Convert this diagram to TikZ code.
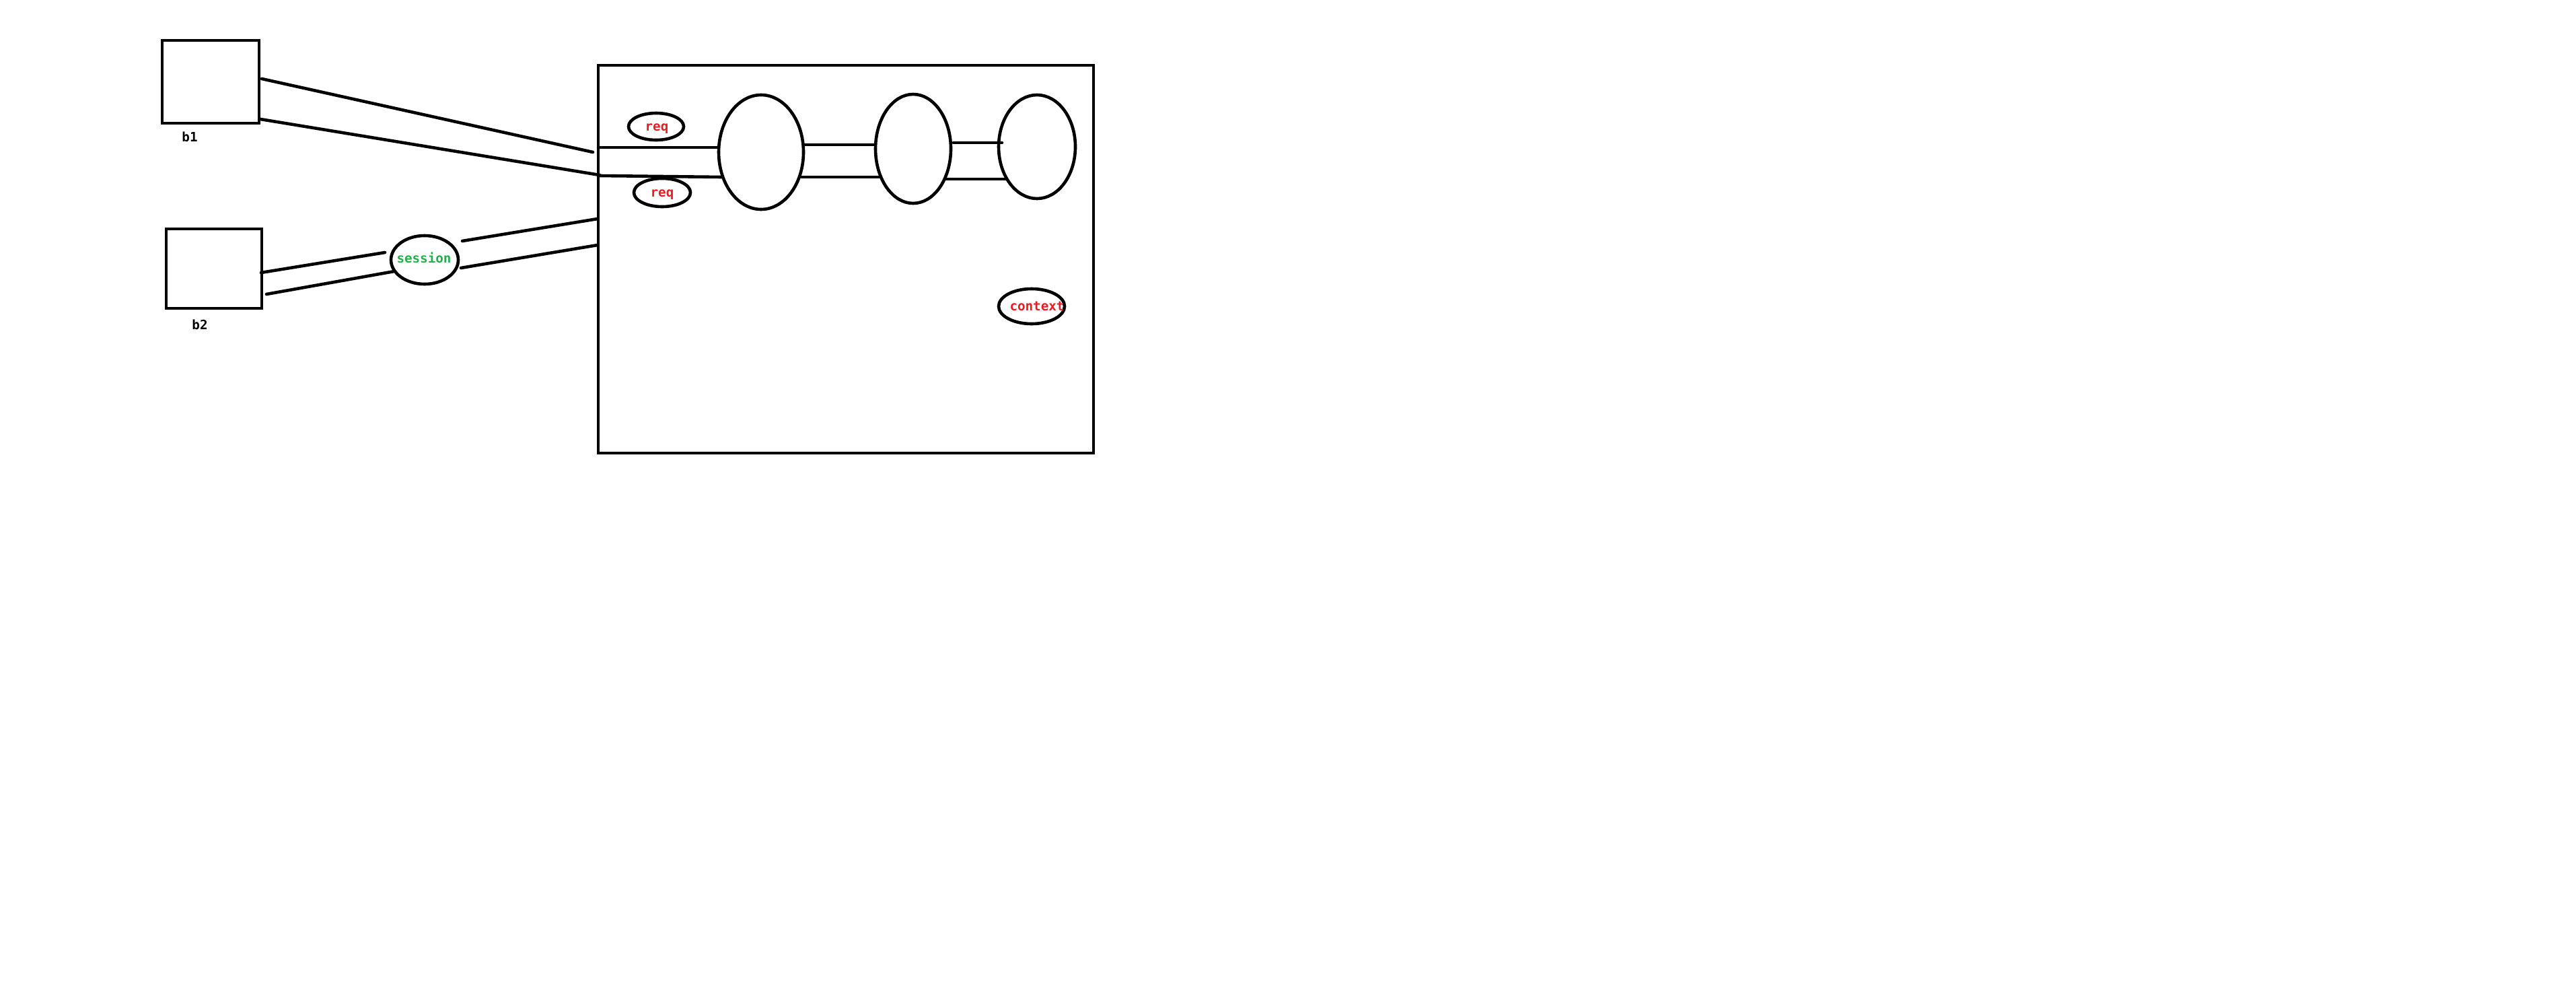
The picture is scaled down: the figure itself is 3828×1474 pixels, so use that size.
\documentclass[tikz,border=0pt]{standalone}
\usepackage{fontspec}
\newfontfamily\lblfont{DejaVu Sans Mono}
\usetikzlibrary{shapes.geometric}
\definecolor{pred}{RGB}{237,28,36}
\definecolor{pgreen}{RGB}{34,177,76}
\tikzset{
  ln/.style={line width=2.3pt, line cap=round},
  sqbox/.style={draw, line width=2.3pt, inner sep=0pt},
  oval/.style={draw, ellipse, line width=2.3pt, inner sep=0pt},
  lbl/.style={inner sep=0pt, font=\lblfont\bfseries\fontsize{9.6pt}{11pt}\selectfont},
}
\begin{document}
\begin{tikzpicture}[x=0.5pt,y=-0.5pt]
\useasboundingbox[fill=white] (0,0) rectangle (3828,1474);
% boxes
\node[sqbox, minimum width=72pt, minimum height=61.5pt] (b1) at (313,121.5) {};
\node[sqbox, minimum width=71pt, minimum height=59pt] (b2) at (318,399) {};
\node[sqbox, minimum width=368pt, minimum height=288pt] (big) at (1257,385) {};
\node[lbl] (tb1) at (282,203) {b1};
\node[lbl] (tb2) at (297,482) {b2};
% ellipses
\node[oval, minimum width=41pt, minimum height=20pt] (req1) at (975,188) {};
\node[oval, minimum width=42pt, minimum height=21pt] (req2) at (984,286) {};
\node[oval, minimum width=63pt, minimum height=85pt] (e1) at (1131,226) {};
\node[oval, minimum width=56pt, minimum height=81pt] (e2) at (1357,221) {};
\node[oval, minimum width=57pt, minimum height=77pt] (e3) at (1541,218) {};
\node[oval, minimum width=49pt, minimum height=26pt] (ctx) at (1533,455) {};
\node[oval, minimum width=50pt, minimum height=36pt] (sess) at (631,386) {};
\node[lbl, text=pred] (treq1) at (976,191) {req};
\node[lbl, text=pred] (treq2) at (984,289) {req};
\node[lbl, text=pred] (tctx) at (1541,455) {context};
\node[lbl, text=pgreen] (tsess) at (630,383) {session};
% connector end points
\coordinate (a1) at (389,117);  \coordinate (a2) at (881,226);
\coordinate (c1) at (387,177);  \coordinate (c2) at (891,260);
\coordinate (h1a) at (889,219); \coordinate (h1b) at (1067,219);
\coordinate (h2a) at (891,261); \coordinate (h2b) at (1073,263);
\coordinate (m1a) at (1194,215); \coordinate (m1b) at (1300,215);
\coordinate (m2a) at (1191,263); \coordinate (m2b) at (1308,263);
\coordinate (n1a) at (1417,212); \coordinate (n1b) at (1489,212);
\coordinate (n2a) at (1405,266); \coordinate (n2b) at (1496,266);
\coordinate (s1a) at (388,405); \coordinate (s1b) at (572,375);
\coordinate (s2a) at (396,437); \coordinate (s2b) at (586,403);
\coordinate (s3a) at (687,358); \coordinate (s3b) at (888,325);
\coordinate (s4a) at (685,398); \coordinate (s4b) at (888,364);
% connectors
\draw[ln] (a1) -- (a2);
\draw[ln] (c1) -- (c2);
\draw[ln] (h1a) -- (h1b);
\draw[ln] (h2a) -- (h2b);
\draw[ln] (m1a) -- (m1b);
\draw[ln] (m2a) -- (m2b);
\draw[ln] (n1a) -- (n1b);
\draw[ln] (n2a) -- (n2b);
\draw[ln] (s1a) -- (s1b);
\draw[ln] (s2a) -- (s2b);
\draw[ln] (s3a) -- (s3b);
\draw[ln] (s4a) -- (s4b);
\end{tikzpicture}
\end{document}
